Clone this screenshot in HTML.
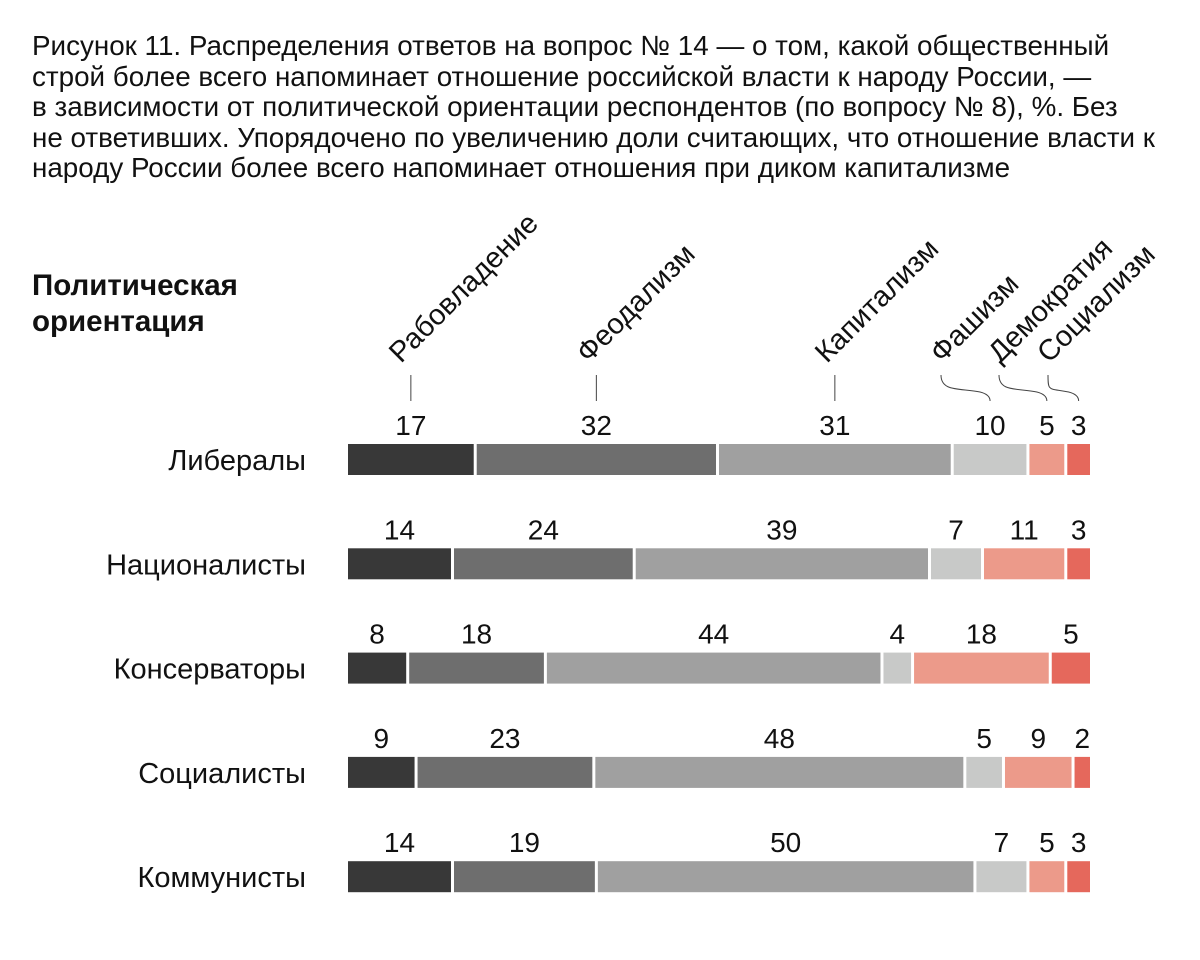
<!DOCTYPE html>
<html><head><meta charset="utf-8">
<style>
body{margin:0;background:#fff;}
svg{display:block;font-family:"Liberation Sans","DejaVu Sans",sans-serif;}
</style></head>
<body>
<svg id="c" width="1200" height="960" viewBox="0 0 1200 960">
<g font-size="27.8" fill="#111">
<text x="32" y="55">Рисунок 11. Распределения ответов на вопрос № 14 — о том, какой общественный</text>
<text x="32" y="86">строй более всего напоминает отношение российской власти к народу России, —</text>
<text x="32" y="116">в зависимости от политической ориентации респондентов (по вопросу № 8), %. Без</text>
<text x="32" y="147">не ответивших. Упорядочено по увеличению доли считающих, что отношение власти к</text>
<text x="32" y="177">народу России более всего напоминает отношения при диком капитализме</text>
</g>
<g font-size="29.5" font-weight="bold" fill="#111">
<text x="32" y="295">Политическая</text>
<text x="32" y="331">ориентация</text>
</g>
<g id="plot"></g>
</svg>
<script>
const categories = ["Либералы","Националисты","Консерваторы","Социалисты","Коммунисты"];
const seriesNames = ["Рабовладение","Феодализм","Капитализм","Фашизм","Демократия","Социализм"];
const slavery = [17,14,8,9,14];
const feudalism = [32,24,18,23,19];
const capitalism = [31,39,44,48,50];
const fascism = [10,7,4,5,7];
const democracy = [5,11,18,9,5];
const socialism = [3,3,5,2,3];
const series = [slavery,feudalism,capitalism,fascism,democracy,socialism];
const colors = ["#383838","#6e6e6e","#a0a0a0","#c8c9c8","#ec9a8a","#e5685c"];
const X0 = 348, X1 = 1090, Y0 = 444, STEP = 104.3, H = 31;
const ns = "http://www.w3.org/2000/svg";
const g = document.getElementById('plot');
function xScale(cum, total){ return X0 + (X1 - X0) * cum / total; }
function rowY(i){ return Y0 + i * STEP; }
function mk(tag, attrs){ const e = document.createElementNS(ns, tag); for (const k in attrs) e.setAttribute(k, attrs[k]); g.appendChild(e); return e; }
categories.forEach((cat, i) => {
  const total = series.reduce((s, a) => s + a[i], 0);
  const y = rowY(i);
  const lab = mk('text', {x: 306, y: y + 26, 'text-anchor': 'end', 'font-size': 29, fill: '#111'});
  lab.textContent = cat;
  
  
  let cum = 0;
  series.forEach((arr, j) => {
    const xa = xScale(cum, total), xb = xScale(cum + arr[i], total);
    cum += arr[i];
    const last = j === series.length - 1;
    const r = mk('rect', {x: xa, y: y, width: Math.max(0, xb - xa - (last ? 0 : 3)), height: H, fill: colors[j]});
    
    
    const t = mk('text', {x: (xa + xb - (last ? 0 : 3)) / 2, y: y - 9, 'text-anchor': 'middle', 'font-size': 28, fill: '#111'});
    t.textContent = arr[i];
    
    
  });
});
const total0 = series.reduce((s, a) => s + a[0], 0);
let c0 = 0;
const centers = series.map((arr, j) => { const a = xScale(c0, total0), b = xScale(c0 + arr[0], total0); c0 += arr[0]; return (a + b - (j < 5 ? 3 : 0)) / 2; });
const labelStarts = [centers[0] - 10, centers[1] - 8, centers[2] - 8, 942, 1000, 1049];
seriesNames.forEach((name, j) => {
  const sx = labelStarts[j], sy = 364;
  const t = mk('text', {x: sx, y: sy, 'font-size': 29, fill: '#111', transform: `rotate(-45 ${sx} ${sy})`});
  t.textContent = name;
  
  
  let d;
  if (j < 3) d = `M${centers[j]} 375 L${centers[j]} 401`;
  else { const cx = centers[j]; d = `M${sx - 1} 375 C${sx - 1} 392 ${cx - 30} 388 ${cx - 10} 392 C${cx - 2} 394 ${cx} 398 ${cx} 401`; }
  const p = mk('path', {d: d, stroke: '#444', 'stroke-width': 1, fill: 'none'});
  
  
});
</script>
</body></html>
